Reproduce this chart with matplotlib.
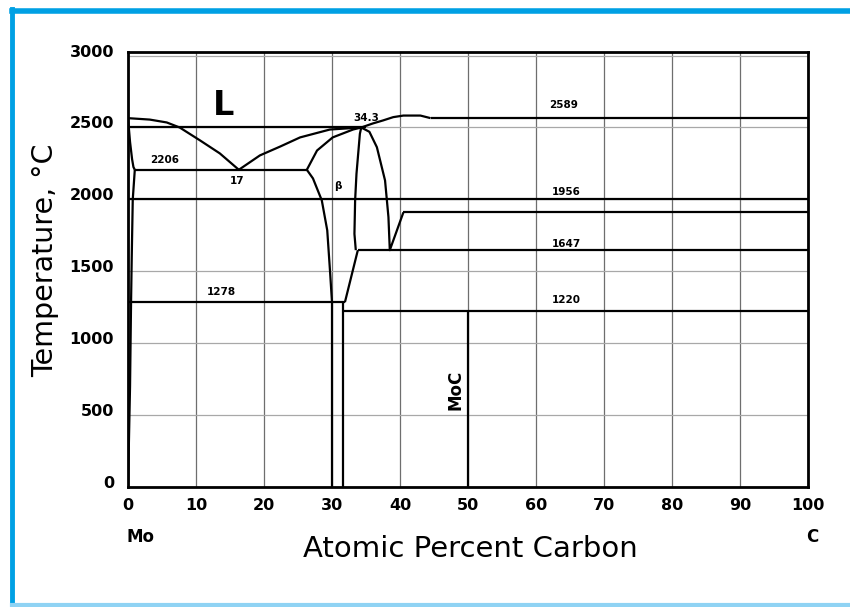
import matplotlib
matplotlib.use("Agg")
import matplotlib.pyplot as plt
import matplotlib.transforms as mtransforms
from matplotlib.lines import Line2D

# ---------------- data (atomic % C, temperature in deg C) ----------------
x_ticks = [0, 10, 20, 30, 40, 50, 60, 70, 80, 90, 100]
y_ticks = [0, 500, 1000, 1500, 2000, 2500, 3000]

# Mo-side liquidus down to eutectic
liq_mo_x = [0, 3.2, 5.7, 7.6, 10.6, 13.5, 16.3]
liq_mo_t = [2565, 2555, 2535, 2500, 2410, 2320, 2206]
# liquidus from eutectic up to congruent maximum (34.3 at.%)
liq_b_x = [16.3, 19.4, 22.4, 25.3, 29.7, 34.3]
liq_b_t = [2206, 2306, 2368, 2431, 2486, 2500]
# liquidus from maximum up to C-side eutectic
liq_c_x = [34.3, 36.0, 37.5, 39.0, 40.5, 43.0, 44.5]
liq_c_t = [2500, 2528, 2549, 2572, 2583, 2583, 2565]
# Mo solidus and solvus
sol_mo_x = [0, 0.3, 0.6, 0.8, 1.0]
sol_mo_t = [2565, 2400, 2280, 2225, 2206]
solv_mo_x = [1.0, 0.7, 0.55, 0.45, 0.3, 0.0]
solv_mo_t = [2206, 2000, 1600, 1285, 700, 0]
# beta phase boundaries
beta_sol_x = [26.3, 27.8, 30.1, 33.1, 34.3]
beta_sol_t = [2206, 2340, 2431, 2486, 2500]
beta_left_x = [26.3, 27.2, 28.5, 29.3, 29.7, 30.0, 30.0]
beta_left_t = [2206, 2146, 1993, 1785, 1507, 1285, 0]
beta_right_x = [34.3, 34.1, 33.6, 33.4, 33.3, 33.5]
beta_right_t = [2500, 2456, 2178, 1993, 1760, 1647]
# Mo2C right boundary
mo2c_x = [31.6, 31.6]
mo2c_t = [0, 1285]
slant_x = [31.9, 33.8]
slant_t = [1285, 1647]
# dome of carbide to the right of maximum and V at 1647
dome_x = [34.3, 35.5, 36.6, 37.8, 38.3, 38.5, 40.5]
dome_t = [2500, 2470, 2363, 2132, 1877, 1647, 1910]
# MoC line
moc_x = [50, 50]
moc_t = [0, 1225]

# horizontal invariant lines: (temperature, x start, x end)
iso_t = [2565, 2500, 2206, 2000, 1910, 1647, 1285, 1225]
iso_x0 = [44.5, 0, 1.0, 0, 40.5, 33.8, 0, 31.6]
iso_x1 = [100, 35, 26.3, 100, 100, 100, 31.9, 100]

# annotations
note_text = ["2206", "17", "34.3", "2589", "1956", "1647", "1220", "1278", "\u03b2"]
note_x = [5.4, 16.0, 35.1, 64.0, 64.5, 64.5, 64.5, 13.8, 30.9]
note_t = [2271, 2125, 2567, 2653, 2051, 1692, 1299, 1356, 2090]

# ---------------- figure ----------------
W, H = 850, 607
fig = plt.figure(figsize=(W / 100, H / 100), dpi=100)
ax = fig.add_axes([128 / W, 1 - 487 / H, 680 / W, 435 / H])
ax.set_xlim(0, 100)
ax.set_ylim(0, 3025)

ax.set_xticks(x_ticks)
ax.set_yticks(y_ticks)
ax.xaxis.grid(True, color="#6e6e6e", lw=0.9, zorder=1)
ax.yaxis.grid(True, color="#a8a8a8", lw=0.9, zorder=1)
ax.set_axisbelow(True)
ax.tick_params(length=0, pad=8, labelsize=11.5)
ax.tick_params(axis="y", pad=10)
for lab in ax.get_xticklabels() + ax.get_yticklabels():
    lab.set_fontweight("bold")
off = mtransforms.ScaledTranslation(0, 0.05, fig.dpi_scale_trans)
for lab in ax.get_yticklabels():
    lab.set_transform(lab.get_transform() + off)
for sp in ax.spines.values():
    sp.set_linewidth(2)

lk = dict(color="black", lw=1.6, zorder=3, solid_capstyle="butt")
for xs, ts in [(liq_mo_x, liq_mo_t), (liq_b_x, liq_b_t), (liq_c_x, liq_c_t),
               (sol_mo_x, sol_mo_t), (solv_mo_x, solv_mo_t),
               (beta_sol_x, beta_sol_t), (beta_left_x, beta_left_t),
               (beta_right_x, beta_right_t), (mo2c_x, mo2c_t),
               (slant_x, slant_t), (dome_x, dome_t), (moc_x, moc_t)]:
    ax.plot(xs, ts, **lk)
for t, a, b in zip(iso_t, iso_x0, iso_x1):
    ax.plot([a, b], [t, t], **lk)

for s, x, t in zip(note_text, note_x, note_t):
    ax.text(x, t, s, fontsize=7.5, fontweight="bold", ha="center", va="center", zorder=4)

ax.text(14.0, 2653, "L", fontsize=24, fontweight="bold", ha="center", va="center")
ax.text(48.1, 674, "MoC", fontsize=12, fontweight="bold", rotation=90,
        ha="center", va="center")

# axis titles
fig.text(141 / W, 1 - 537 / H, "Mo", fontsize=12, fontweight="bold", ha="center", va="center")
fig.text(812 / W, 1 - 537 / H, "C", fontsize=12, fontweight="bold", ha="center", va="center")
fig.text(470 / W, 1 - 549 / H, "Atomic Percent Carbon", fontsize=21, ha="center", va="center")
fig.text(45 / W, 1 - 260 / H, "Temperature, \u00b0C", fontsize=20.5, rotation=90,
         ha="center", va="center")

# blue frame
fig.add_artist(Line2D([12 / W, 1.0], [1 - 11 / H, 1 - 11 / H], color="#00a0e4", lw=4))
fig.add_artist(Line2D([12 / W, 12 / W], [1 - 9 / H, 0], color="#00a0e4", lw=3.5))
fig.add_artist(Line2D([12 / W, 1.0], [2 / H, 2 / H], color="#8fd3f4", lw=3))

fig.savefig("out.png", dpi=100)
